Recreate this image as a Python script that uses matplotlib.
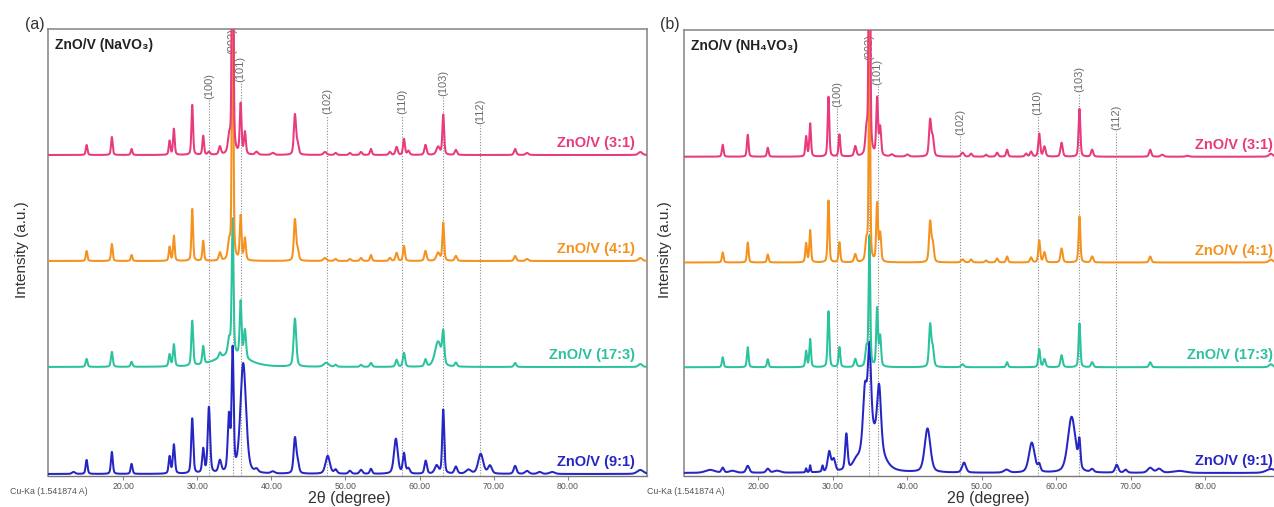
import numpy as np
import matplotlib
matplotlib.use("Agg")
import matplotlib.pyplot as plt

plt.rcParams["font.family"] = ["Liberation Sans", "DejaVu Sans"]

# ---------------------------------------------------------------------------
# Diffraction peaks: (2-theta position, height, FWHM) for each sample
# ---------------------------------------------------------------------------
# (a) ZnO/V prepared from NaVO3
na_31 = [(15.06, 10, .26), (18.47, 18, .26), (21.13, 6, .26), (26.26, 14, .26), (26.84, 26, .26),
         (29.32, 50, .26), (30.8, 19, .26), (31.57, 3, .35), (33.05, 8, .35), (34.3, 15, .4),
         (34.77, 420, .22), (35.85, 50, .28), (36.43, 22, .3), (38.0, 3, .45), (40.2, 2, .5),
         (43.18, 40, .35), (43.55, 10, .35), (47.23, 3, .5), (48.67, 2, .35), (50.6, 2, .35),
         (52.1, 3, .35), (53.44, 6, .3), (56.0, 3, .35), (56.9, 8, .35), (57.9, 16, .3),
         (58.5, 4, .35), (60.8, 10, .35), (62.5, 8, .55), (63.2, 40, .28), (64.9, 5, .35),
         (72.9, 6, .35), (74.5, 2, .45), (89.8, 3, .6)]
na_41 = [(15.06, 10, .26), (18.47, 17, .26), (21.13, 6, .26), (26.26, 14, .26), (26.84, 25, .26),
         (29.32, 52, .26), (30.8, 20, .26), (33.05, 8, .35), (34.3, 16, .4), (34.77, 380, .22),
         (35.85, 44, .28), (36.43, 22, .3), (43.18, 41, .35), (43.55, 10, .35), (47.23, 3, .5),
         (48.67, 2, .35), (50.6, 2, .35), (52.1, 3, .35), (53.44, 6, .3), (56.0, 3, .35),
         (56.9, 8, .35), (57.9, 15, .3), (60.8, 10, .35), (62.5, 8, .55), (63.2, 38, .28),
         (64.9, 5, .35), (72.9, 5, .35), (74.5, 2, .45), (89.8, 3, .6)]
na_173 = [(15.06, 8, .3), (18.47, 15, .3), (21.13, 5, .3), (26.26, 12, .3), (26.84, 22, .3),
          (29.32, 45, .3), (30.8, 18, .3), (33.05, 5, .35), (34.3, 15, .4), (34.6, 12, 5.0),
          (34.77, 135, .28), (35.85, 55, .3), (36.43, 28, .35), (43.18, 48, .42), (47.4, 4, .8),
          (48.67, 2, .35), (52.1, 2, .35), (53.44, 4, .35), (56.9, 7, .35), (57.9, 14, .35),
          (60.8, 7, .35), (62.5, 25, 1.0), (63.2, 30, .33), (64.9, 4, .35), (72.9, 4, .35),
          (89.8, 3, .6)]
na_91 = [(13.3, 2, .5), (15.06, 14, .3), (18.47, 22, .3), (21.13, 10, .3), (26.26, 17, .3),
         (26.84, 29, .33), (29.32, 55, .33), (30.8, 24, .33), (31.57, 66, .38), (33.05, 12, .45),
         (34.27, 55, .38), (34.77, 121, .32), (36.2, 110, .9), (38.0, 3, .5), (40.2, 2, .6),
         (43.18, 35, .42), (43.55, 10, .42), (47.6, 18, .7), (48.67, 4, .45), (50.6, 3, .45),
         (52.1, 4, .45), (53.44, 5, .35), (56.8, 35, .6), (57.9, 20, .38), (58.5, 5, .45),
         (60.83, 13, .38), (62.3, 8, .6), (63.2, 64, .32), (64.9, 7, .45), (66.6, 4, .8),
         (68.25, 20, .8), (69.5, 8, .6), (72.9, 8, .45), (74.5, 3, .6), (76.2, 2, .6),
         (77.9, 2, .8), (89.8, 4, 1.0)]

# (b) ZnO/V prepared from NH4VO3
nh_31 = [(15.2, 12, .26), (18.56, 22, .26), (21.25, 9, .26), (26.4, 20, .26), (26.94, 33, .26),
         (29.4, 60, .26), (30.87, 22, .26), (33.0, 10, .35), (34.5, 22, .35), (34.9, 420, .22),
         (35.93, 57, .28), (36.34, 28, .3), (37.9, 2, .45), (40.0, 2, .5), (43.05, 36, .35),
         (43.4, 18, .35), (47.4, 4, .45), (48.55, 3, .35), (50.56, 2, .35), (52.04, 4, .35),
         (53.38, 7, .3), (55.93, 3, .35), (56.6, 5, .35), (57.7, 23, .3), (58.4, 10, .35),
         (60.7, 14, .35), (63.1, 48, .28), (64.8, 7, .35), (72.6, 7, .35), (74.2, 2, .45),
         (77.6, 1, .5), (88.8, 3, .6)]
nh_41 = [(15.2, 10, .26), (18.56, 20, .26), (21.25, 8, .26), (26.4, 19, .26), (26.94, 32, .26),
         (29.4, 62, .26), (30.87, 20, .26), (33.0, 8, .35), (34.5, 20, .35), (34.9, 250, .22),
         (35.93, 58, .28), (36.34, 28, .3), (43.05, 40, .35), (43.4, 18, .35), (47.4, 3, .45),
         (48.55, 3, .35), (50.56, 2, .35), (52.04, 4, .35), (53.38, 6, .3), (56.6, 5, .35),
         (57.7, 22, .3), (58.4, 10, .35), (60.7, 14, .35), (63.1, 46, .28), (64.8, 6, .35),
         (72.6, 6, .35), (88.8, 3, .6)]
nh_173 = [(15.2, 10, .26), (18.56, 20, .26), (21.25, 8, .26), (26.4, 16, .26), (26.94, 28, .26),
          (29.4, 56, .28), (30.87, 20, .28), (33.0, 8, .35), (34.5, 18, .35), (34.9, 130, .25),
          (35.93, 58, .28), (36.34, 30, .3), (43.05, 42, .35), (43.4, 18, .35), (47.4, 3, .45),
          (53.38, 5, .3), (57.7, 18, .3), (58.4, 8, .35), (60.7, 12, .35), (63.1, 44, .28),
          (64.8, 5, .35), (72.6, 5, .35), (88.8, 3, .6)]
nh_91 = [(13.5, 3, 1.5), (15.2, 5, .4), (16.5, 2, 1.0), (18.56, 7, .5), (21.25, 4, .5),
         (22.5, 2, 1.0), (26.4, 4, .18), (26.94, 7, .18), (28.6, 6, .22), (29.5, 20, .5),
         (30.1, 12, .5), (31.8, 36, .38), (33.0, 4, .8), (35.2, 40, 2.8), (34.3, 55, .6),
         (34.9, 85, .5), (36.2, 60, .6), (42.7, 44, .9), (47.6, 10, .6), (53.3, 3, .8),
         (56.7, 30, .9), (57.7, 7, .4), (62.05, 56, 1.2), (63.1, 26, .32), (64.8, 3, .5),
         (68.1, 8, .5), (69.3, 3, .5), (72.6, 5, .8), (73.8, 4, .8), (76.5, 2, 2.0),
         (88.8, 4, 1.5)]

# Reflection markers: Miller indices and their 2-theta positions
hkl_names = ["(100)", "(002)", "(101)", "(102)", "(110)", "(103)", "(112)"]
hkl_pos_a = [31.57, 34.77, 35.85, 47.5, 57.6, 63.2, 68.2]
hkl_pos_b = [30.6, 34.9, 36.0, 47.1, 57.5, 63.1, 68.0]

sample_names = ["ZnO/V (3:1)", "ZnO/V (4:1)", "ZnO/V (17:3)", "ZnO/V (9:1)"]
sample_colors = ["#E83A7C", "#F5921E", "#2BC29E", "#2626C4"]

tick_values = [20, 30, 40, 50, 60, 70, 80]


def pattern(x, peaks):
    """Pseudo-Voigt sum of the listed reflections."""
    y = np.zeros_like(x)
    for c, h, w in peaks:
        u = (x - c) / w
        y += h * (0.6 * np.exp(-4 * np.log(2) * u ** 2) + 0.4 / (1 + 4 * u ** 2))
    return y


W, H = 1274, 507
fig = plt.figure(figsize=(W / 100, H / 100), dpi=100)


def px_axes(x0, x1, y_top, y_bot):
    return fig.add_axes([x0 / W, 1 - y_bot / H, (x1 - x0) / W, (y_bot - y_top) / H])


panels = [
    dict(rect=(48, 647, 29, 476), xlim=(9.85, 90.7), series=[na_31, na_41, na_173, na_91],
         offsets=[321, 215, 109, 2], hkl=hkl_pos_a, hkl_tops=[376, 421, 393, 361, 361, 379, 351],
         title="ZnO/V (NaVO\u2083)", tag="(a)", tag_x=35, ylab_x=22, xlab_x=349, cu_x=10),
    dict(rect=(684, 1285, 30, 476), xlim=(10.0, 90.7), series=[nh_31, nh_41, nh_173, nh_91],
         offsets=[320, 214, 109, 3], hkl=hkl_pos_b, hkl_tops=[369, 416, 391, 341, 361, 384, 346],
         title="ZnO/V (NH\u2084VO\u2083)", tag="(b)", tag_x=670, ylab_x=665, xlab_x=988, cu_x=647),
]

x = np.arange(9.8, 90.8, 0.01)

for p in panels:
    ax = px_axes(*p["rect"])
    ax.set_xlim(*p["xlim"])
    ax.set_ylim(0, 447)

    # patterns: lowest first so upper traces sit on top
    for k in range(3, -1, -1):
        y = pattern(x, p["series"][k]) + p["offsets"][k]
        ax.plot(x, y, color=sample_colors[k], lw=1.45, zorder=5 + (3 - k), solid_joinstyle="round")
        ax.text(1 - 12 / 600, p["offsets"][k] + 12, sample_names[k], transform=ax.get_yaxis_transform(),
                ha="right", va="center", color=sample_colors[k], fontsize=10.5, fontweight="bold",
                zorder=20)

    # reflection markers
    for name, pos, top in zip(hkl_names, p["hkl"], p["hkl_tops"]):
        ax.plot([pos, pos], [0, top], ls=(0, (1, 1.5)), color="#8a8a8a", lw=0.8, zorder=2)
        ax.text(pos, top + 1, name, rotation=90, ha="center", va="bottom", fontsize=8,
                color="#6a6a6a", zorder=3)

    ax.text(0.012, 0.965, p["title"], transform=ax.transAxes, ha="left", va="center",
            fontsize=10, fontweight="bold", color="#222222")

    ax.set_yticks([])
    ax.set_xticks(tick_values)
    ax.set_xticklabels([f"{v:.2f}" for v in tick_values])
    ax.tick_params(axis="x", direction="out", length=3, width=0.8, color="#888888",
                   labelsize=6.3, labelcolor="#555555", pad=1)
    for s in ["left", "right", "top"]:
        ax.spines[s].set_color("#8c8c8c")
        ax.spines[s].set_linewidth(1.2)
    ax.spines["bottom"].set_color("#777777")
    ax.spines["bottom"].set_linewidth(1.0)

    fig.text(p["tag_x"] / W, 1 - 24 / H, p["tag"], ha="center", va="center", fontsize=11.5,
             color="#333333")
    fig.text(p["ylab_x"] / W, 1 - 250 / H, "Intensity (a.u.)", rotation=90, ha="center",
             va="center", fontsize=11, color="#333333")
    fig.text(p["xlab_x"] / W, 1 - 498 / H, "2\u03b8 (degree)", ha="center", va="center",
             fontsize=11.5, color="#333333")
    fig.text(p["cu_x"] / W, 1 - 492 / H, "Cu-Ka (1.541874 A)", ha="left", va="center",
             fontsize=6.3, color="#555555")

fig.savefig("out.png", dpi=100)
